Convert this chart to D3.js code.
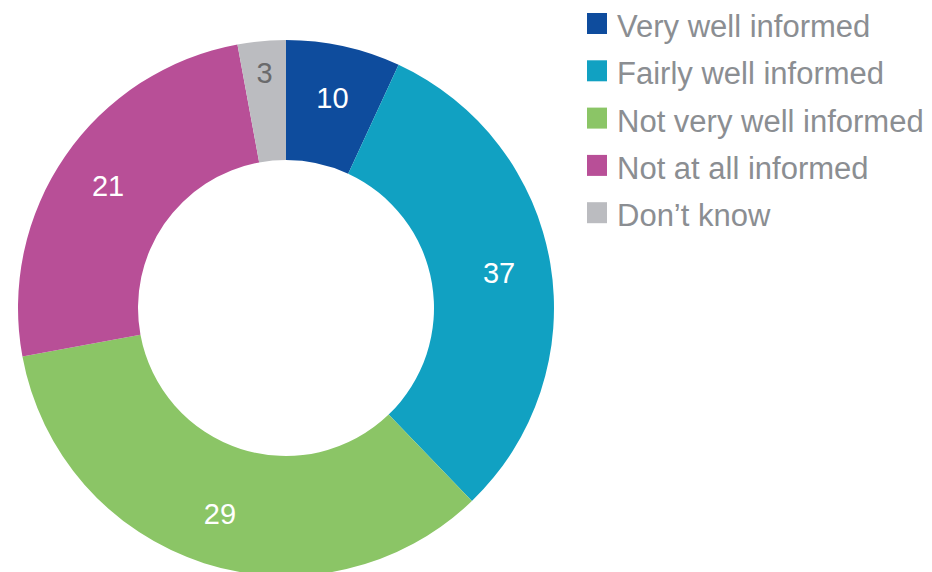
<!DOCTYPE html>
<html>
<head>
<meta charset="utf-8">
<script src="https://cdn.jsdelivr.net/npm/d3@7"></script>
<style>
  html, body { margin: 0; padding: 0; background: #ffffff; }
  svg { display: block; }
</style>
</head>
<body>
<svg id="chart" width="932" height="572"></svg>
<script>
// Categories, in drawing order (clockwise from 12 o'clock)
const categories = ["Very well informed", "Fairly well informed", "Not very well informed", "Not at all informed", "Don\u2019t know"];
// Share of the ring each slice occupies, as drawn in the picture
const shares = [6.9, 30.9, 34.3, 25.0, 2.9];
// Value labels printed on the slices
const labels = ["10", "37", "29", "21", "3"];
const colors = ["#0e4c9d", "#11a1c2", "#8bc566", "#b84f97", "#bbbcc0"];
const labelColors = ["#ffffff", "#ffffff", "#ffffff", "#ffffff", "#6a6a6c"];

const svg = d3.select("#chart");
const cx = 286, cy = 308, outerR = 268, innerR = 148;
const font = "'Liberation Sans', Arial, sans-serif";

const data = categories.map((c, i) => ({ cat: c, share: shares[i], label: labels[i], color: colors[i], lc: labelColors[i] }));

const pie = d3.pie().value(d => d.share).sort(null).startAngle(0).endAngle(2 * Math.PI);
const arcs = pie(data);
const arc = d3.arc().innerRadius(innerR).outerRadius(outerR);
const labelArc = d3.arc().innerRadius(216).outerRadius(216);
const smallLabelArc = d3.arc().innerRadius(236).outerRadius(236);

const g = svg.append("g").attr("transform", `translate(${cx},${cy})`);
g.selectAll("path.slice").data(arcs).join("path")
  .attr("class", "slice")
  .attr("d", arc)
  .attr("fill", d => d.data.color);

g.selectAll("text.val").data(arcs).join("text")
  .attr("class", "val")
  .attr("transform", d => {
    const p = (d.data.share < 5 ? smallLabelArc : labelArc).centroid(d);
    return `translate(${p[0]},${p[1]})`;
  })
  .attr("text-anchor", "middle")
  .attr("dy", "0.36em")
  .attr("font-family", font)
  .attr("font-size", 29)
  .attr("fill", d => d.data.lc)
  .text(d => d.data.label);

// Legend
const legend = svg.append("g").attr("transform", "translate(587,13)");
const rowH = 47.3;
const items = legend.selectAll("g.item").data(data).join("g")
  .attr("class", "item")
  .attr("transform", (d, i) => `translate(0,${i * rowH})`);
items.append("rect")
  .attr("x", 0).attr("y", 0)
  .attr("width", 20).attr("height", 21)
  .attr("fill", d => d.color);
items.append("text")
  .attr("x", 30).attr("y", 24)
  .attr("font-family", font)
  .attr("font-size", 31)
  .attr("fill", "#8b8e92")
  .text(d => d.cat);
</script>
</body>
</html>
